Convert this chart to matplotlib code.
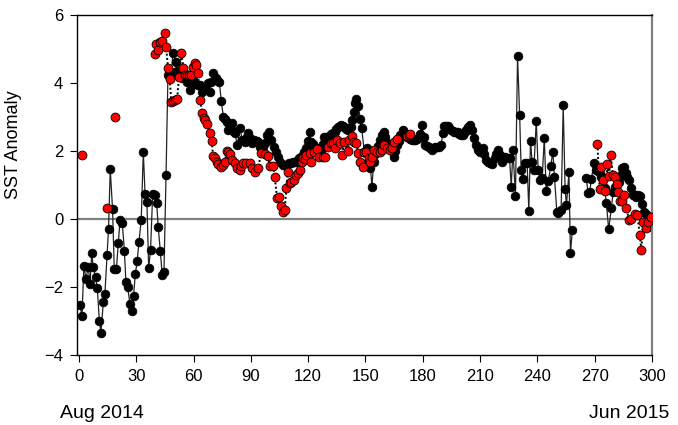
import numpy as np
import matplotlib
matplotlib.use("Agg")
import matplotlib.pyplot as plt

plt.rcParams['font.family'] = ['Liberation Sans', 'DejaVu Sans']

nan = np.nan

# black series (day, anomaly); nan marks a gap in the record
black_day = [
    0.5, 1.6, 2.6, 3.7, 4.9, 5.8, 6.7, 7.5, 8.7, 9.6, 10.7, 11.5, 12.8, 13.6, 14.7, 15.5,
    16.4, 17.6, 18.5, 19.6, 20.6, 21.5, 22.7, 23.8, 24.6, 25.5, 26.7, 27.8, 28.6, 29.5, 30.5,
    31.4, 32.6, 33.7, 34.6, 35.6, 36.5, 37.5, 38.6, 39.8, 40.7, 41.5, 42.6, 43.6, 44.5, 45.6,
    46.6, 47.5, 48.4, 49.2, 50.6, 51.5, 52.5, 53.8, 55.0, 56.4, 58.1, 59.8, 61.0, 62.5, 63.3,
    64.2, 66.0, 67.7, 68.4, 69.1, 70.2, 71.5, 72.5, 73.5, 74.5, 75.6, 76.5, 77.3, 78.2, 79.9,
    80.8, 81.7, 82.9, 84.3, 85.5, 86.9, 87.8, 88.7, 89.5, 90.4, 91.8, 93.0, 93.6, 94.8, 96.5,
    97.3, 98.3, 99.3, 100.5, 101.9, 103.2, 104.4, 105.4, 106.7, 107.5, 108.4, 109.3, 110.1,
    111.0, 111.9, 112.8, 113.6, 114.5, 115.4, 116.2, 117.1, 118.0, 118.9, 119.8, 120.7, 121.5,
    122.4, 123.3, 124.2, 125.0, 125.9, 126.8, 127.6, 128.5, 129.4, 130.3, 131.2, 132.0, 132.9,
    133.8, 134.6, 135.5, 136.4, 137.2, 138.1, 139.0, 139.9, 140.7, 141.6, 142.5, 143.2, 143.8,
    144.5, 145.1, 146.3, 147.2, 148.0, 149.4, 150.8, 151.7, 152.6, 153.4, 154.3, 155.2, 156.0,
    156.7, 157.4, 158.7, 159.5, 160.4, 161.3, 162.2, 163.0, 163.9, 164.8, 165.6, 166.5, 167.4,
    168.2, 169.6, 170.9, 171.8, 172.6, 173.5, 174.3, 175.2, 176.1, 177.0, 177.8, 178.7, 179.6,
    180.4, 181.3, 182.2, 183.1, 184.0, 184.8, 185.7, 186.5, 187.4, 188.3, 189.5, 190.5, 191.2,
    192.1, 193.0, 193.9, 194.7, 195.6, 196.5, 197.4, 198.2, 199.1, 199.9, 201.1, 202.0, 202.8,
    203.7, 204.6, 205.9, 206.6, 207.7, 208.9, 210.1, 211.5, 212.3, 213.2, 214.1, 215.0, 216.4,
    217.6, 218.5, 219.4, 220.6, 221.6, 222.9, 224.2, 225.4, 226.3, 227.2, 228.5, 229.6, 230.7,
    231.5, 232.3, 233.6, 234.6, 235.5, 236.4, 237.2, 238.1, 239.4, 240.4, 241.5, 242.5, 243.6,
    244.6, 245.8, 247.0, 248.1, 248.9, 250.2, 251.0, 252.4, 253.5, 254.5, 255.2, 256.5, 257.3,
    258.3, 262.0, 265.6, 266.5, 267.3, 268.3, 269.6, 270.9, 271.8, 272.6, 273.5, 274.3, 275.2,
    276.1, 277.3, 278.7, 279.6, 280.5, 281.5, 282.5, 283.5, 284.5, 285.2, 286.2, 287.1, 288.0,
    289.0, 290.0, 291.0, 291.8, 292.7, 293.6, 294.5, 295.6, 296.7, 297.9, 298.8, 299.7,
]
black_sst = [
    -2.53, -2.85, -1.37, -1.77, -1.40, -1.92, -1.01, -1.42, -1.72, -2.02, -3.00, -3.34, -2.43,
    -2.20, -1.06, -0.28, 1.47, 0.28, -1.48, -1.48, -0.70, -0.03, -0.13, -0.94, -1.86, -2.00,
    -2.49, -2.70, -2.25, -1.63, -1.24, -0.68, -0.03, 1.98, 0.74, 0.49, -1.45, -0.90, 0.74, 0.71,
    0.46, -0.23, -0.94, -1.66, -1.57, 1.29,
    4.24, 4.18, 4.33, 4.87, 4.63, 4.35, 4.20, 4.14, 4.30, 4.04, 3.78, 4.09, 3.97, 3.94, 3.94,
    3.73, 3.89, 3.99, 3.74, 4.04, 4.28, 4.14, 4.10, 4.02, 3.48, 3.01, 2.95, 2.86, 2.62, 2.81,
    2.60, 2.52, 2.18, 2.67, 2.32, 2.27, 2.40, 2.52, 2.38, 2.23, 2.32, 2.30, 2.27, 2.13, 2.13,
    2.25, 2.47, 2.57, 2.32, 2.13, 1.98, 1.83, 1.69, 1.59, 1.59, 1.59, 1.62, 1.64,
    1.66, 1.69, 1.69, 1.69, 1.74, 1.78, 1.83, 1.88, 1.98, 2.08, 2.30, 2.55, 2.27,
    2.20, 2.13, 2.10, 2.08, 2.03, 1.98, 2.20, 2.42, 2.42, 2.42, 2.45, 2.49, 2.53,
    2.57, 2.65, 2.72, 2.74, 2.76, 2.74, 2.72, 2.66, 2.62, 2.68, 2.72, 2.90, 3.16,
    3.40, 3.52, 3.33, 2.95, 2.67, 1.98, 2.08, 1.69, 1.50, 0.95, 1.69, 1.90, 1.98,
    2.15, 2.32, 2.47, 2.57, 2.40, 2.23, 2.20, 2.18, 2.00, 1.83, 2.00, 2.18, 2.30,
    2.47, 2.62, 2.47, 2.42, 2.37, 2.35, 2.32, 2.32, 2.32, 2.35, 2.37, 2.50, 2.76,
    2.42, 2.18, 2.15, 2.13, 2.10, 2.03, 2.08, 2.13, 2.13, 2.13, 2.18, 2.52, 2.74,
    2.74, 2.74, 2.68, 2.62, 2.60, 2.57, 2.56, 2.55, 2.50, 2.47, 2.47, 2.55, 2.62,
    2.70, 2.76, 2.62, 2.37, 2.18, 2.03, 1.96, 2.08, 1.90, 1.74, 1.68, 1.64, 1.61,
    1.78, 1.90, 2.03, 1.88, 1.69, 1.83, 1.78, 1.80, 0.95, 2.03, 0.68, 4.79, 3.06,
    1.44, 1.17, 1.64, 1.66, 0.24, 2.30, 1.69, 1.44, 2.89, 1.44, 1.15, 1.20, 2.37,
    0.83, 1.13, 1.57, 1.98, 1.25, 0.20, 0.17, 0.26, 3.35, 0.87, 0.41, 1.37, -1.01,
    -0.32, nan, 1.20, 0.77, 0.80, 1.17, 1.66, 1.44, 1.40, 1.34, 1.25, 1.20, 0.90,
    0.46, -0.30, 0.31, 0.80, 0.95, 1.00, 1.10, 1.30, 1.50, 1.54, 1.34, 1.25, 1.15,
    0.90, 0.71, 0.70, 0.66, 0.70, 0.68, 0.45, 0.22, 0.15, 0.07, -0.10, -0.23,
]

# red series (day, anomaly); nan breaks the dotted line
red_day = [
    1.6, 8.0, 14.9, 16.5, 18.7, 30.0,
    39.6, 40.5, 41.4, 42.3, 43.6, 44.9, 45.7, 46.6, 47.5, 48.4, 49.4, 50.4, 51.4, 52.4, 53.6,
    54.7, 55.7, 56.6, 57.5, 58.5, 59.7, 60.9, 61.5, 62.3, 63.5, 64.4, 65.3, 66.1, 66.9, 68.4,
    69.5, 70.2, 71.2, 72.1, 73.0, 74.2, 75.5, 76.4, 77.3, 78.0, 78.9, 80.3, 81.5, 82.7, 84.1,
    85.0, 85.9, 87.6, 89.4, 90.8, 92.0, 93.7, 95.5, 97.2, 99.0, 99.8, 101.6, 102.5, 103.7,
    104.7, 105.6, 106.8, 107.7, 108.6, 109.4, 110.3, 111.2, 112.4, 113.8, 114.7, 115.6, 116.8,
    117.3, 118.4, 119.1, 120.7, 121.5, 123.3, 124.6, 125.8, 127.6, 128.8, 130.3, 131.7, 132.9,
    134.1, 135.2, 136.4, 137.6, 139.0, 140.7, 141.6, 142.8, 143.8, 145.1, 146.3, 147.3, 148.6,
    149.4, 150.5, 151.7, 152.6, 153.4, 154.7, 156.0, 157.4, 158.7, 159.9, 161.3, 162.7, 163.9,
    165.1, 166.5, 171.7, 172.6, 173.5, 200.0,
    271.4, 272.6, 273.5, 274.3, 275.6, 276.6, 277.5, 278.4, 279.5, 280.5, 281.4, 282.4, 283.4,
    284.5, 285.3, 286.6, 288.0, 289.2, 290.9, 292.3, 293.6, 294.4, 295.3, 296.7, 297.9, 299.3,
]
red_sst = [
    1.88, nan, 0.31, nan, 2.99, nan,
    4.85, 5.14, 4.97, 5.22, 5.24, 5.46, 5.05, 4.43, 4.12, 3.44, 3.47, 3.50, 3.52, 4.19, 4.89,
    4.44, 4.25, 4.24, 4.25, 4.24, 4.48, 4.58, 4.53, 4.30, 3.50, 3.11, 2.96, 2.92, 2.80, 2.54,
    2.30, 1.85, 1.78, 1.69, 1.62, 1.53, 1.60, 1.67, 2.00, 1.98, 1.91, 1.75, 1.64, 1.49, 1.44,
    1.55, 1.64, 1.64, 1.66, 1.49, 1.37, 1.49, 1.95, 1.91, 1.85, 1.57, 1.57, 1.24, 0.61,
    0.64, 0.38, 0.21, 0.26, 0.90, 1.39, 1.05, 1.09, 1.14, 1.29, 1.35, 1.44, 1.69,
    1.78, 1.76, 1.88, 1.93, 1.69, 1.98, 2.06, 1.83, 1.81, 1.83, 2.13, 2.23, 2.23,
    2.08, 2.32, 2.23, 1.88, 2.27, 2.00, 2.32, 2.45, 2.27, 2.23, 1.93, 1.69, 1.54,
    1.98, 1.98, 1.78, 1.69, 1.83, 2.03, 1.96, 1.98, 2.03, 2.18, 2.08, 2.03, 2.08,
    2.27, 2.35, 2.44, 2.47, 2.49, nan,
    2.20, 0.88, 1.54, 1.15, 0.82, 1.61, 1.26, 1.87, 1.30, 1.24, 1.03, 0.80, 0.53,
    0.53, 0.71, 0.31, -0.03, -0.01, 0.15, 0.12, -0.47, -0.91, -0.08, -0.27, -0.08, 0.05,
]

x_ticks = list(range(0, 301, 30))
y_ticks = [-4, -2, 0, 2, 4, 6]

fig = plt.figure(figsize=(6.78, 4.25), dpi=100)
ax = fig.add_axes([0.1136, 0.1647, 0.8481, 0.8])

ax.axhline(0, color='#808080', lw=1.6, zorder=1)

ax.plot(black_day, black_sst, color='#222222', lw=0.9, marker='o', ms=6.3,
        mfc='black', mec='black', mew=0.5, zorder=2)
ax.plot(red_day, red_sst, color='black', lw=1.4, ls=(0, (1, 1.2)), marker='o', ms=6.4,
        mfc='#ff0000', mec='black', mew=0.6, zorder=3)

ax.set_xlim(-1, 300)
ax.set_ylim(-4, 6)
ax.set_xticks(x_ticks)
ax.set_yticks(y_ticks)
ax.tick_params(direction='out', length=5, width=0.8, labelsize=12, pad=5)
ax.set_ylabel('SST Anomaly', fontsize=13)
ax.yaxis.set_label_coords(-0.096, 0.62)

for side in ['left', 'bottom', 'top']:
    ax.spines[side].set_linewidth(1.0)
ax.spines['right'].set_color('#808080')
ax.spines['right'].set_linewidth(1.6)

fig.text(0.089, 0.016, 'Aug 2014', fontsize=14, va='baseline')
fig.text(0.988, 0.016, 'Jun 2015', fontsize=14, ha='right', va='baseline')

plt.savefig('out.png', dpi=100)
